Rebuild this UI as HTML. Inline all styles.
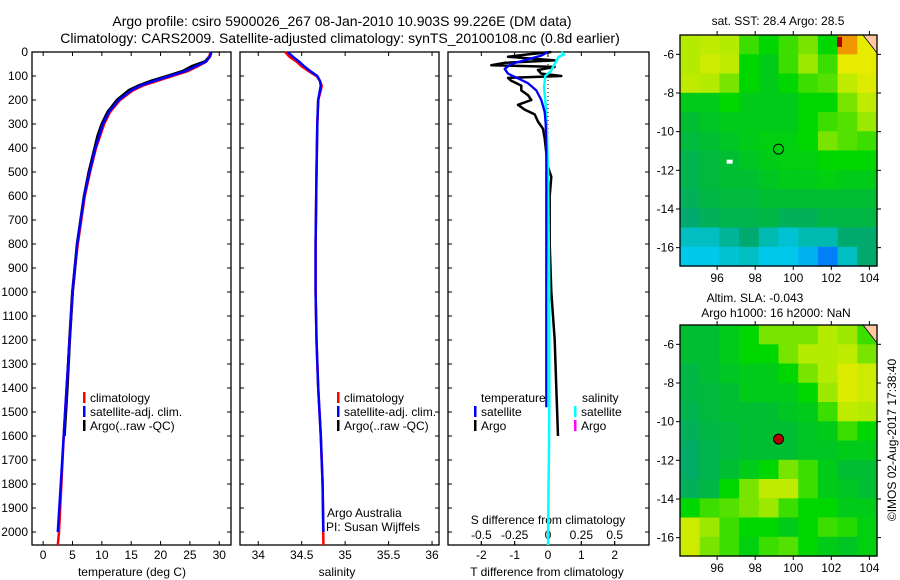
<!DOCTYPE html>
<html><head><meta charset="utf-8"><style>
html,body{margin:0;padding:0;background:#fff;width:900px;height:580px;overflow:hidden}
svg{font-family:"Liberation Sans",sans-serif;display:block}
</style></head><body>
<svg id="fig" width="900" height="580" xmlns="http://www.w3.org/2000/svg">
<text x="342" y="26" font-size="14" text-anchor="middle">Argo profile: csiro 5900026_267 08-Jan-2010 10.903S 99.226E (DM data)</text>
<text x="340" y="43" font-size="14" text-anchor="middle">Climatology: CARS2009. Satellite-adjusted climatology: synTS_20100108.nc (0.8d earlier)</text>
<text x="778" y="25" font-size="12" text-anchor="middle">sat. SST: 28.4 Argo: 28.5</text>
<text x="755" y="302" font-size="12" text-anchor="middle">Altim. SLA: -0.043</text>
<text x="776" y="317" font-size="12" text-anchor="middle">Argo h1000: 16 h2000: NaN</text>
<text transform="translate(896,440) rotate(-90)" font-size="12" text-anchor="middle">©IMOS 02-Aug-2017 17:38:40</text>
</svg>
<script>
// ---- data ----
const depthTicks=[0,100,200,300,400,500,600,700,800,900,1000,1100,1200,1300,1400,1500,1600,1700,1800,1900,2000];
const tTicks=[0,5,10,15,20,25,30];
const sTicks=[34,34.5,35,35.5,36];
const dTTicks=[-2,-1,0,1,2];
const dSTicks=[-0.5,-0.25,0,0.25,0.5];
const dSTickLabels=["-0.5","-0.25","0","0.25","0.5"];
const argoTDepth=[0,10,20,40,60,80,100,120,140,160,200,250,300,350,400,500,600,700,800,900,1000,1200,1400,1600];
const argoTVal=[28.6,28.5,28.3,27.6,25.3,23.8,21.2,18.5,16.3,14.6,12.6,11,10,9.3,8.8,7.8,7.0,6.4,5.8,5.4,5.0,4.5,4.1,3.6];
const climTDepth=[0,20,40,60,80,100,120,140,160,200,250,300,400,500,600,700,800,900,1000,1200,1400,1600,1800,2000,2054];
const climTVal=[28.5,28.3,27.8,26.3,24.6,22.0,19.5,17.0,15.3,13.1,11.4,10.4,9.0,8.0,7.1,6.5,5.9,5.4,5.0,4.5,4.0,3.5,3.1,2.7,2.5];
const satTDepth=[0,20,40,60,80,100,120,140,160,200,250,300,400,500,600,700,800,900,1000,1200,1400,1600,1800,2000];
const satTVal=[28.6,28.4,27.7,26.0,24.2,21.6,19.0,16.6,15.0,12.9,11.2,10.2,8.9,7.9,7.0,6.4,5.8,5.4,5.0,4.5,4.0,3.5,3.0,2.5];
const climSDepth=[0,20,40,60,80,100,120,140,160,200,300,500,800,1000,1200,1400,1600,1800,2054];
const climSVal=[34.31,34.36,34.44,34.5,34.58,34.67,34.71,34.73,34.72,34.69,34.68,34.67,34.66,34.66,34.67,34.69,34.72,34.74,34.75];
const satSDepth=[0,20,40,60,80,100,120,140,160,200,300,500,800,1000,1200,1400,1600,1800,2000];
const satSVal=[34.34,34.4,34.47,34.53,34.6,34.68,34.71,34.72,34.71,34.69,34.68,34.67,34.66,34.66,34.67,34.69,34.72,34.74,34.75];
const dTSatDepth=[0,15,30,50,70,90,110,130,160,200,250,300,400,600,1000,1480];
const dTSatVal=[0,-0.2,-0.6,-1.1,-1.3,-1.2,-0.9,-0.6,-0.35,-0.2,-0.1,-0.07,-0.05,-0.05,-0.05,-0.05];
const dTArgoDepth=[0,10,20,35,45,55,62,75,90,100,108,120,140,160,180,200,220,240,260,290,320,360,420,480,520,600,800,1000,1200,1400,1600];
const dTArgoVal=[0.1,-0.6,-1.2,0.2,-1.3,-1.7,0.2,-0.3,-0.2,0.4,-1.2,-1.1,-0.8,-0.8,-0.6,-0.5,-0.9,-0.7,-0.4,-0.3,-0.15,-0.1,-0.05,0,0.1,0.05,0.05,0.1,0.2,0.25,0.3];
const dSSatDepth=[0,10,20,40,60,80,100,150,200,300,500,1000,1500,2054];
const dSSatVal=[0.1,0.12,0.08,0.06,0.04,0.02,-0.02,-0.03,-0.02,-0.01,0,0.01,0.01,0];
const sstGrid=[
[.70,.72,.70,.60,.55,.60,.65,.55,.90,.80],
[.70,.75,.72,.55,.50,.60,.68,.60,.80,.80],
[.72,.70,.65,.55,.50,.55,.60,.62,.72,.78],
[.50,.50,.55,.50,.50,.50,.55,.55,.65,.72],
[.45,.48,.50,.50,.50,.50,.55,.60,.62,.68],
[.42,.45,.48,.50,.52,.52,.55,.65,.62,.60],
[.38,.42,.45,.48,.50,.52,.52,.55,.55,.55],
[.38,.42,.45,.45,.48,.50,.50,.52,.50,.50],
[.35,.40,.42,.42,.45,.45,.45,.45,.45,.45],
[.30,.35,.38,.38,.40,.35,.35,.40,.40,.40],
[.20,.20,.25,.30,.22,.18,.22,.22,.30,.30],
[.15,.15,.18,.20,.15,.15,.12,.05,.20,.30]];
const slaGrid=[
[.45,.45,.50,.55,.65,.65,.65,.70,.68,.60],
[.45,.45,.50,.55,.55,.65,.70,.70,.72,.65],
[.40,.45,.48,.50,.50,.55,.65,.70,.78,.75],
[.40,.42,.45,.50,.50,.50,.55,.68,.78,.75],
[.38,.42,.45,.45,.45,.48,.50,.60,.72,.70],
[.35,.40,.42,.45,.45,.45,.48,.50,.60,.55],
[.32,.38,.42,.45,.45,.45,.48,.48,.50,.50],
[.32,.38,.45,.50,.55,.65,.60,.50,.45,.45],
[.35,.40,.55,.65,.72,.72,.60,.50,.48,.45],
[.55,.60,.62,.65,.68,.60,.55,.55,.50,.50],
[.75,.68,.60,.55,.55,.50,.55,.60,.58,.52],
[.75,.65,.60,.52,.60,.62,.55,.50,.48,.52]];
const lonTicks=[96,98,100,102,104];
const latTicks=[-6,-8,-10,-12,-14,-16];
const argoLon=99.226, argoLat=-10.903;

// ---- drawing ----
const NS="http://www.w3.org/2000/svg";
const svg=document.getElementById('fig');
function mk(tag,a,parent){const e=document.createElementNS(NS,tag);for(const k in a)e.setAttribute(k,a[k]);(parent||svg).appendChild(e);return e;}
const top0=52,bot0=545;
const yD=d=>top0+(d/2054)*(bot0-top0);
function panel(name,x0,x1,xmin,xmax){
  const g=mk('g',{});
  
  
  const fx=v=>x0+(v-xmin)/(xmax-xmin)*(x1-x0);
  return {g,fx};
}
function frame(g,x0,x1,name){
  const r=mk('rect',{x:x0,y:top0,width:x1-x0,height:bot0-top0,fill:'none',stroke:'#000','stroke-width':1.3},g);
  
  
  depthTicks.forEach(d=>{const y=yD(d);
    mk('line',{x1:x0,x2:x0+4,y1:y,y2:y,stroke:'#000'},g);
    mk('line',{x1:x1,x2:x1-4,y1:y,y2:y,stroke:'#000'},g);});
}
function line(g,fx,dep,val,col,w,name,dash){
  const p=dep.map((d,i)=>(i?'L':'M')+fx(val[i]).toFixed(1)+' '+yD(d).toFixed(1)).join('');
  const e=mk('path',{d:p,fill:'none',stroke:col,'stroke-width':w,'stroke-linejoin':'round'},g);
  if(dash)e.setAttribute('stroke-dasharray',dash);
  
  
}
function txt(g,x,y,s,anchor,name,size){
  const t=mk('text',{x,y,'font-size':size||12,'text-anchor':anchor||'start'},g);t.textContent=s;
  
  
  return t;
}
function legend(g,x,y,col,label,name){
  mk('rect',{x:x,y:y-10,width:2.5,height:11,fill:col},g);
  txt(g,x+7,y,label,'start',name);
}
// Panel 1 temperature
{const x0=32,x1=231;const {g,fx}=panel('temperature-panel',x0,x1,-1.9,32);
 frame(g,x0,x1,'temperature-frame');
 depthTicks.forEach(d=>txt(g,28,yD(d)+4,String(d),'end','depth-tick-label'));
 tTicks.forEach(t=>{mk('line',{x1:fx(t),x2:fx(t),y1:bot0,y2:bot0-4,stroke:'#000'},g);mk('line',{x1:fx(t),x2:fx(t),y1:top0,y2:top0+4,stroke:'#000'},g);txt(g,fx(t),559,String(t),'middle','temperature-tick-label');});
 txt(g,132,576,'temperature (deg C)','middle','x-axis-title-temperature');
 line(g,fx,argoTDepth,argoTVal,'#000',3,'argo-temperature-line');
 line(g,fx,climTDepth,climTVal,'#f00',2.5,'climatology-temperature-line');
 line(g,fx,satTDepth,satTVal,'#00f',2.5,'satellite-temperature-line');
 legend(g,83,402,'#f00','climatology','legend-climatology');
 legend(g,83,416,'#00f','satellite-adj. clim.','legend-satellite');
 legend(g,83,430,'#000','Argo(..raw -QC)','legend-argo');
}
// Panel 2 salinity
{const x0=240,x1=439;const {g,fx}=panel('salinity-panel',x0,x1,33.79,36.08);
 frame(g,x0,x1,'salinity-frame');
 sTicks.forEach(t=>{mk('line',{x1:fx(t),x2:fx(t),y1:bot0,y2:bot0-4,stroke:'#000'},g);mk('line',{x1:fx(t),x2:fx(t),y1:top0,y2:top0+4,stroke:'#000'},g);txt(g,fx(t),559,String(t),'middle','salinity-tick-label');});
 txt(g,337,576,'salinity','middle','x-axis-title-salinity');
 line(g,fx,climSDepth,climSVal,'#f00',2.5,'climatology-salinity-line');
 line(g,fx,satSDepth,satSVal,'#00f',2.5,'satellite-salinity-line');
 legend(g,337,402,'#f00','climatology','legend-climatology-s');
 legend(g,337,416,'#00f','satellite-adj. clim.','legend-satellite-s');
 legend(g,337,430,'#000','Argo(..raw -QC)','legend-argo-s');
 txt(g,327,517,'Argo Australia','start','argo-australia-label');
 txt(g,326,531,'PI: Susan Wijffels','start','pi-label');
}
// Panel 3 differences
{const x0=448,x1=649;const {g,fx}=panel('difference-panel',x0,x1,-3,3.03);
 const fs=v=>fx(v*4);
 frame(g,x0,x1,'difference-frame');
 dTTicks.forEach(t=>{mk('line',{x1:fx(t),x2:fx(t),y1:bot0,y2:bot0-4,stroke:'#000'},g);mk('line',{x1:fx(t),x2:fx(t),y1:top0,y2:top0+4,stroke:'#000'},g);txt(g,fx(t),559,String(t),'middle','t-diff-tick-label');});
 dSTicks.forEach((t,i)=>{mk('line',{x1:fs(t),x2:fs(t),y1:bot0,y2:bot0-4,stroke:'#000'},g);txt(g,fs(t),539,dSTickLabels[i],'middle','s-diff-tick-label');});
 txt(g,548,524,'S difference from climatology','middle','s-diff-axis-title');
 txt(g,547,576,'T difference from climatology','middle','t-diff-axis-title');
 const z=mk('line',{x1:fx(0),x2:fx(0),y1:top0,y2:yD(350),stroke:'#000','stroke-dasharray':'1 3'},g);
 line(g,fx,dTArgoDepth,dTArgoVal,'#000',2.5,'argo-temp-diff-line');
 line(g,fs,dSSatDepth,dSSatVal,'#0ff',2.5,'satellite-sal-diff-line');
 line(g,fx,dTSatDepth,dTSatVal,'#00f',2.3,'satellite-temp-diff-line');
 txt(g,481,402,'temperature','start','legend-temperature-heading');
 legend(g,474,416,'#00f','satellite','legend-temp-satellite');
 legend(g,474,430,'#000','Argo','legend-temp-argo');
 txt(g,582,402,'salinity','start','legend-salinity-heading');
 legend(g,574,416,'#0ff','satellite','legend-sal-satellite');
 legend(g,574,430,'#f0f','Argo','legend-sal-argo');
}
// Maps
const stops=[[0,[0,90,255]],[.15,[0,200,235]],[.3,[0,170,110]],[.45,[0,190,50]],[.55,[0,215,0]],[.7,[180,235,0]],[.8,[230,235,0]],[.9,[240,150,0]],[1,[170,0,0]]];
function cmap(v){for(let i=1;i<stops.length;i++){if(v<=stops[i][0]){const [a,ca]=stops[i-1],[b,cb]=stops[i];const t=(v-a)/(b-a);return 'rgb('+ca.map((c,k)=>Math.round(c+(cb[k]-c)*t)).join(',')+')';}}return 'rgb(170,0,0)';}
function map(name,grid,top,bottom,filled){
  const g=mk('g',{});
  
  
  const x0=680,x1=877,lon0=94.05,lon1=104.4,lat0=-5,lat1=-16.95;
  const fx=v=>x0+(v-lon0)/(lon1-lon0)*(x1-x0);
  const fy=v=>top+(v-lat0)/(lat1-lat0)*(bottom-top);
  const nr=grid.length,nc=grid[0].length,cw=(x1-x0)/nc,ch=(bottom-top)/nr;
  grid.forEach((row,r)=>row.forEach((v,c)=>{
    const e=mk('rect',{x:(x0+c*cw).toFixed(1),y:(top+r*ch).toFixed(1),width:(cw+0.6).toFixed(1),height:(ch+0.6).toFixed(1),fill:cmap(v)},g);
    
    
  }));
  mk('polygon',{points:`${x1-14},${top} ${x1},${top} ${x1},${top+18}`,fill:'#ffc8a0',stroke:'#000','stroke-width':0.8},g);
  const m=mk('circle',{cx:fx(argoLon),cy:fy(argoLat),r:5,fill:filled?'#b00000':'none',stroke:'#000','stroke-width':1},g);
  
  
  const fr=mk('rect',{x:x0,y:top,width:x1-x0,height:bottom-top,fill:'none',stroke:'#000','stroke-width':1.3},g);
  
  
  lonTicks.forEach(l=>{mk('line',{x1:fx(l),x2:fx(l),y1:top,y2:top-4,stroke:'#000'},g);mk('line',{x1:fx(l),x2:fx(l),y1:bottom,y2:bottom+4,stroke:'#000'},g);txt(g,fx(l),bottom+16,String(l),'middle','lon-tick-label');});
  latTicks.forEach(l=>{mk('line',{x1:x0,x2:x0-4,y1:fy(l),y2:fy(l),stroke:'#000'},g);mk('line',{x1:x1,x2:x1+4,y1:fy(l),y2:fy(l),stroke:'#000'},g);txt(g,x0-6,fy(l)+4,String(l),'end','lat-tick-label');});
  return {g,fx,fy};
}
{const {g,fx,fy}=map('sst-map',sstGrid,35,266,false);
 mk('rect',{x:fx(96.5),y:fy(-11.45),width:6,height:4,fill:'#fff'},g);
 mk('rect',{x:fx(102.3),y:fy(-5.1),width:5,height:10,fill:'#a00'},g);}
{map('sla-map',slaGrid,325,556,true);}
</script>
</body></html>
